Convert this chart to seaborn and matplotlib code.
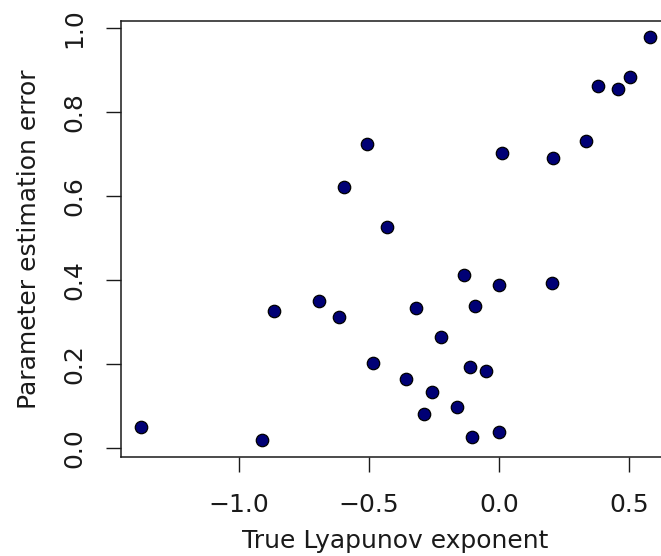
import matplotlib
matplotlib.use("Agg")
import matplotlib.pyplot as plt
import seaborn as sns
import pandas as pd

# Data
lyapunov = [-1.376, -0.909, -0.864, -0.692, -0.614, -0.597, -0.509, -0.483,
            -0.430, -0.357, -0.321, -0.288, -0.259, -0.222, -0.163, -0.134,
            -0.111, -0.106, -0.093, -0.051, -0.001, -0.001, 0.012, 0.202,
            0.208, 0.332, 0.378, 0.457, 0.503, 0.579]
param_error = [0.050, 0.018, 0.325, 0.350, 0.312, 0.620, 0.723, 0.201,
               0.525, 0.163, 0.333, 0.081, 0.133, 0.264, 0.096, 0.412,
               0.193, 0.025, 0.338, 0.183, 0.038, 0.387, 0.701, 0.393,
               0.690, 0.731, 0.861, 0.855, 0.883, 0.979]
x_ticks = [-1.0, -0.5, 0.0, 0.5]
y_ticks = [0.0, 0.2, 0.4, 0.6, 0.8, 1.0]
x_label = "True Lyapunov exponent"
y_label = "Parameter estimation error"

df = pd.DataFrame({"x": lyapunov, "y": param_error})

sns.set_style("white")
plt.rcParams["font.family"] = ["DejaVu Sans"]

W, H = 661, 556
fig = plt.figure(figsize=(W / 100, H / 100), dpi=100)
left_px, right_px, top_px, bottom_px = 120.5, 670.4, 20.7, 456.7
ax = fig.add_axes([left_px / W, (H - bottom_px) / H,
                   (right_px - left_px) / W, (bottom_px - top_px) / H])

sns.scatterplot(data=df, x="x", y="y", ax=ax, s=80, color="#000075",
                edgecolor="black", linewidth=0.9, zorder=3, legend=False)

ax.set_xlim(-1.4537, 0.657)
ax.set_ylim(-0.0214, 1.0167)
ax.set_xticks(x_ticks)
ax.set_xticklabels([f"{v:.1f}".replace("-", "\u2212") for v in x_ticks])
ax.set_yticks(y_ticks)
ax.set_yticklabels([f"{v:.1f}" for v in y_ticks], rotation=90, va="center")

for sp in ax.spines.values():
    sp.set_visible(True)
    sp.set_color("#1a1a1a")
    sp.set_linewidth(1.1)

ax.tick_params(axis="both", which="major", direction="out", length=11,
               width=1.0, color="#1a1a1a", labelsize=18, labelcolor="#1a1a1a",
               bottom=True, left=True, top=False, right=False)
ax.tick_params(axis="x", pad=15)
ax.tick_params(axis="y", pad=13.5)

ax.set_xlabel(x_label, fontsize=18, color="#1a1a1a", labelpad=9)
ax.set_ylabel(y_label, fontsize=18, color="#1a1a1a", labelpad=15.5)
ax.grid(False)

fig.savefig("out.png", dpi=100)
